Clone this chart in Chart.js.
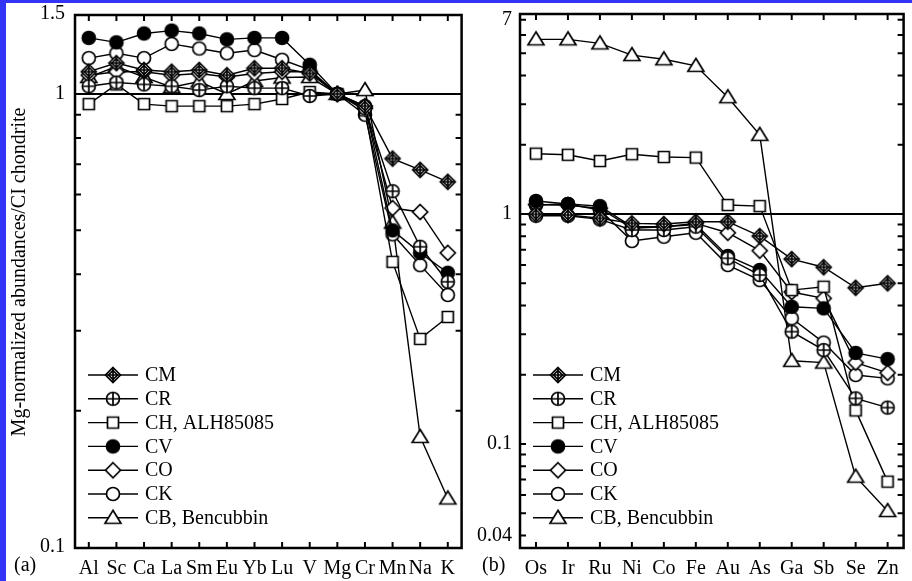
<!DOCTYPE html>
<html>
<head>
<meta charset="utf-8">
<script src="https://cdn.jsdelivr.net/npm/chart.js@4.4.1/dist/chart.umd.min.js"></script>
<style>
  body { margin: 0; background: #fff; }
  #wrap { position: relative; width: 912px; height: 581px; background: #fff; overflow: hidden; }
  .pane { position: absolute; top: 0; height: 581px; }
  #pa { left: 0; width: 470px; }
  #pb { left: 470px; width: 442px; }
  .band { position: absolute; background: #3434f6; }
</style>
</head>
<body>
<div id="wrap">
  <div class="pane" id="pa"><canvas id="chartA" width="470" height="581"></canvas></div>
  <div class="pane" id="pb"><canvas id="chartB" width="442" height="581"></canvas></div>
  <div class="band" style="left:0;top:0;width:6px;height:581px"></div>
  <div class="band" style="left:0;top:0;width:912px;height:3px"></div>
</div>
<script>
// ---- data ----
var groups = ['CM', 'CR', 'CH, ALH85085', 'CV', 'CO', 'CK', 'CB, Bencubbin'];
var markerKinds = ['crossDiamond', 'crossCircle', 'square', 'dot', 'diamond', 'circle', 'triangle'];

// (a) lithophile + Mn, Na, K
var elemA = ['Al', 'Sc', 'Ca', 'La', 'Sm', 'Eu', 'Yb', 'Lu', 'V', 'Mg', 'Cr', 'Mn', 'Na', 'K'];
var cmA = [1.12, 1.17, 1.13, 1.12, 1.13, 1.10, 1.14, 1.14, 1.11, 1, 0.94, 0.72, 0.68, 0.64];
var crA = [1.04, 1.06, 1.05, 1.04, 1.02, 1.04, 1.03, 1.03, 0.99, 1, 0.93, 0.61, 0.46, 0.385];
var chA = [0.95, 1.05, 0.95, 0.94, 0.94, 0.94, 0.95, 0.975, 1.01, 1, 0.92, 0.426, 0.288, 0.322];
var cvA = [1.33, 1.30, 1.36, 1.38, 1.36, 1.32, 1.33, 1.33, 1.16, 1, 0.94, 0.50, 0.446, 0.403];
var coA = [1.10, 1.12, 1.12, 1.10, 1.11, 1.09, 1.11, 1.12, 1.12, 1, 0.93, 0.56, 0.549, 0.446];
var ckA = [1.20, 1.23, 1.20, 1.29, 1.26, 1.23, 1.25, 1.19, 1.13, 1, 0.90, 0.49, 0.419, 0.36];
var cbA = [1.09, 1.15, 1.09, 1.035, 1.065, 1.00, 1.068, 1.087, 1.09, 1, 1.02, 0.52, 0.175, 0.128];

// (b) siderophile + chalcophile
var elemB = ['Os', 'Ir', 'Ru', 'Ni', 'Co', 'Fe', 'Au', 'As', 'Ga', 'Sb', 'Se', 'Zn'];
var cmB = [0.997, 0.990, 0.958, 0.911, 0.905, 0.926, 0.926, 0.802, 0.637, 0.587, 0.478, 0.500];
var crB = [0.983, 0.983, 0.948, 0.852, 0.852, 0.881, 0.642, 0.543, 0.308, 0.256, 0.158, 0.144];
var chB = [1.83, 1.81, 1.70, 1.82, 1.77, 1.76, 1.094, 1.083, 0.467, 0.483, 0.140, 0.0686];
var cvB = [1.14, 1.105, 1.083, 0.881, 0.88, 0.90, 0.657, 0.571, 0.395, 0.389, 0.249, 0.234];
var coB = [1.10, 1.09, 1.06, 0.867, 0.881, 0.911, 0.829, 0.693, 0.458, 0.430, 0.226, 0.204];
var ckB = [1.094, 1.105, 1.041, 0.763, 0.797, 0.829, 0.600, 0.516, 0.352, 0.276, 0.1995, 0.193];
var cbB = [5.75, 5.75, 5.52, 4.91, 4.71, 4.41, 3.22, 2.21, 0.230, 0.226, 0.0721, 0.0511];

// y ticks (log) and the ones that get a number
var ticksA = [0.1, 0.2, 0.3, 0.4, 0.5, 0.6, 0.7, 0.8, 0.9, 1, 1.5];
var labelsA = [0.1, 1, 1.5];
var ticksB = [0.04, 0.05, 0.06, 0.07, 0.08, 0.09, 0.1, 0.2, 0.3, 0.4, 0.5, 0.6, 0.7, 0.8, 0.9, 1, 2, 3, 4, 5, 6, 7];
var labelsB = [0.04, 0.1, 1, 7];

var serif = 'Liberation Serif';

// ---- markers ----
function makeMarker(kind) {
    var s = 20, c = document.createElement('canvas');
    c.width = s; c.height = s;
    var g = c.getContext('2d');
    var m = s / 2;
    g.lineWidth = 1.7;
    g.strokeStyle = '#000';
    g.fillStyle = kind == 'dot' ? '#000' : '#fff';
    g.beginPath();
    if (kind == 'square') {
        g.rect(m - 5.5, m - 5.5, 11, 11);
    } else if (kind == 'diamond' || kind == 'crossDiamond') {
        g.moveTo(m, m - 7.5); g.lineTo(m + 7.5, m); g.lineTo(m, m + 7.5); g.lineTo(m - 7.5, m); g.closePath();
    } else if (kind == 'triangle') {
        g.moveTo(m, m - 7.5); g.lineTo(m + 8, m + 5.5); g.lineTo(m - 8, m + 5.5); g.closePath();
    } else {
        g.arc(m, m, 6.5, 0, Math.PI * 2);
    }
    g.fill();
    g.stroke();
    if (kind == 'crossDiamond' || kind == 'crossCircle') {
        g.beginPath();
        g.moveTo(m - 6.5, m); g.lineTo(m + 6.5, m);
        g.moveTo(m, m - 6.5); g.lineTo(m, m + 6.5);
        g.stroke();
    }
    if (kind == 'crossDiamond') {
        g.beginPath();
        g.moveTo(m, m - 4.5); g.lineTo(m + 4.5, m); g.lineTo(m, m + 4.5); g.lineTo(m - 4.5, m); g.closePath();
        g.stroke();
    }
    return c;
}
var markers = markerKinds.map(makeMarker);

// frame, inward ticks on all four sides, the line at 1, panel letter, y title and legend
var framePlugin = {
    id: 'frame',
    beforeDatasetsDraw: function (chart) {
        var a = chart.chartArea, y = chart.scales.y;
        var g = chart.ctx;
        g.save();
        g.strokeStyle = '#000';
        g.lineWidth = 2;
        var py = y.getPixelForValue(1);
        g.beginPath(); g.moveTo(a.left, py); g.lineTo(a.right, py); g.stroke();
        g.restore();
    },
    afterDraw: function (chart, args, opts) {
        var a = chart.chartArea, x = chart.scales.x, y = chart.scales.y;
        var g = chart.ctx, t = 6;
        g.save();
        g.strokeStyle = '#000';
        g.lineWidth = 2.5;
        g.strokeRect(a.left, a.top, a.right - a.left, a.bottom - a.top);
        g.lineWidth = 2;
        g.beginPath();
        x.ticks.forEach(function (tk, i) {
            var px = x.getPixelForTick(i);
            g.moveTo(px, a.bottom); g.lineTo(px, a.bottom - t);
            g.moveTo(px, a.top); g.lineTo(px, a.top + t);
        });
        y.ticks.forEach(function (tk) {
            var py = y.getPixelForValue(tk.value);
            if (py <= a.top + 1 || py >= a.bottom - 1) return;
            g.moveTo(a.left, py); g.lineTo(a.left + t, py);
            g.moveTo(a.right, py); g.lineTo(a.right - t, py);
        });
        g.stroke();

        g.fillStyle = '#000';
        g.textBaseline = 'middle';

        // y title, rotated
        if (opts.title) {
            g.save();
            g.font = '20px "' + serif + '"';
            g.textAlign = 'center';
            g.translate(20, 272);
            g.rotate(-Math.PI / 2);
            g.fillText(opts.title, 0, 0);
            g.restore();
        }

        // panel letter
        g.font = '20px "' + serif + '"';
        g.textAlign = 'left';
        g.fillText(opts.letter, opts.letterX, 566);

        // legend: line, marker, name
        chart.data.datasets.forEach(function (ds, i) {
            var ry = 375 + i * 23.8;
            var lx = a.left + 13;
            g.lineWidth = 1.4;
            g.beginPath(); g.moveTo(lx, ry); g.lineTo(lx + 50, ry); g.stroke();
            var mk = ds.pointStyle;
            g.drawImage(mk, lx + 25 - mk.width / 2, ry - mk.height / 2);
            g.fillText(ds.label, a.left + 70, ry + 1);
        });
        g.restore();
    }
};

function buildPanel(canvasId, cats, series, yMin, yMax, tickVals, labelVals, yWidth, pad, extra) {
    var font = { family: serif, size: 20 };
    return new Chart(document.getElementById(canvasId), {
        type: 'line',
        data: {
            labels: cats,
            datasets: series.map(function (d, i) {
                return {
                    label: groups[i],
                    data: d,
                    borderColor: '#000',
                    backgroundColor: '#fff',
                    borderWidth: 1.4,
                    pointStyle: markers[i],
                    pointRadius: 7,
                    pointHoverRadius: 7,
                    tension: 0,
                    fill: false
                };
            })
        },
        options: {
            responsive: false,
            animation: false,
            layout: { padding: pad },
            plugins: {
                legend: { display: false },
                tooltip: { enabled: false },
                frame: { letter: extra.letter, letterX: extra.letterX, title: extra.title }
            },
            scales: {
                x: {
                    offset: true,
                    grid: { display: false },
                    border: { display: false },
                    afterFit: function (s) { s.height = 33; },
                    ticks: { autoSkip: false, maxRotation: 0, color: '#000', font: font, padding: 1 }
                },
                y: {
                    type: 'logarithmic',
                    min: yMin,
                    max: yMax,
                    grid: { display: false },
                    border: { display: false },
                    afterBuildTicks: function (s) {
                        s.ticks = tickVals.map(function (v) { return { value: v }; });
                    },
                    afterFit: function (s) { s.width = yWidth; },
                    ticks: {
                        autoSkip: false,
                        color: '#000',
                        font: font,
                        padding: extra.tickPad,
                        callback: function (v) { return labelVals.indexOf(v) >= 0 ? String(v) : ''; }
                    }
                }
            }
        },
        plugins: [framePlugin]
    });
}

buildPanel('chartA', elemA, [cmA, crA, chA, cvA, coA, ckA, cbA], 0.0995, 1.494, ticksA, labelsA, 75,
    { left: 0, top: 15, right: 5, bottom: 0 },
    { title: 'Mg-normalized abundances/CI chondrite', letter: '(a)', letterX: 14, tickPad: 2 });

buildPanel('chartB', elemB, [cmB, crB, chB, cvB, coB, ckB, cbB], 0.0353, 7.41, ticksB, labelsB, 50,
    { left: 0, top: 14, right: 2, bottom: 0 },
    { letter: '(b)', letterX: 12, tickPad: 0 });
</script>
</body>
</html>
